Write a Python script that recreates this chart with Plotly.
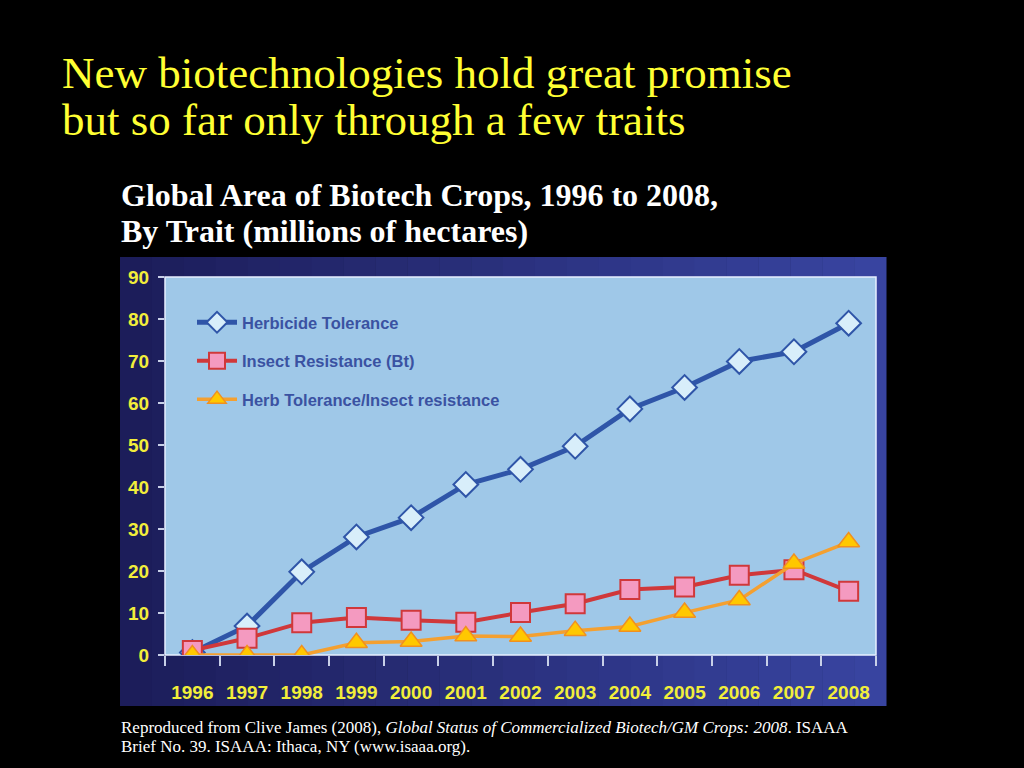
import plotly.graph_objects as go

years = ["1996", "1997", "1998", "1999", "2000", "2001", "2002",
         "2003", "2004", "2005", "2006", "2007", "2008"]
herbicide = [0.6, 6.9, 19.8, 28.1, 32.7, 40.6, 44.2, 49.7, 58.6, 63.7, 69.9, 72.2, 79.0]
insect = [1.1, 4.0, 7.7, 8.9, 8.3, 7.8, 10.1, 12.2, 15.6, 16.2, 19.0, 20.3, 15.2]
stacked = [0.0, 0.0, 0.0, 2.9, 3.2, 4.5, 4.4, 5.8, 6.8, 10.1, 13.1, 21.8, 26.9]
series_names = ["Herbicide Tolerance", "Insect Resistance (Bt)", "Herb Tolerance/Insect resistance"]
y_ticks = [0, 10, 20, 30, 40, 50, 60, 70, 80, 90]

W, H = 1024, 768
L, R, T, B = 165, 876, 277, 655


def px(x):
    return (x - L) / (R - L)


def py(y):
    return (B - y) / (B - T)


fig = go.Figure()
fig.add_trace(go.Scatter(
    x=years, y=herbicide, name=series_names[0], mode="lines+markers",
    line=dict(color="#2f55a8", width=5),
    marker=dict(symbol="diamond", size=19, color="#d8eefa",
                line=dict(color="#2f55a8", width=2)),
    legendgroup="a"))
fig.add_trace(go.Scatter(
    x=years, y=insect, name=series_names[1], mode="lines+markers",
    line=dict(color="#d0383a", width=4),
    marker=dict(symbol="square", size=19, color="#f49ac0",
                line=dict(color="#d0383a", width=2)),
    legendgroup="b"))
fig.add_trace(go.Scatter(
    x=years, y=stacked, name=series_names[2], mode="lines+markers",
    line=dict(color="#f4a030", width=3.5),
    marker=dict(symbol="triangle-up", size=19, color="#ffc800",
                line=dict(color="#f09020", width=1.5)),
    legendgroup="c"))

# navy frame with a left-to-right gradient
shapes = []
n_strips = 24
x_left, x_right = 120, 886
c0 = (0x1c, 0x1d, 0x5a)
c1 = (0x38, 0x44, 0xa0)
for i in range(n_strips):
    t = i / (n_strips - 1)
    col = "rgb({},{},{})".format(*[round(a + (b - a) * t) for a, b in zip(c0, c1)])
    xa = x_left + (x_right - x_left) * i / n_strips
    xb = x_left + (x_right - x_left) * (i + 1) / n_strips
    shapes.append(dict(type="rect", xref="paper", yref="paper", x0=px(xa), x1=px(xb + 0.5),
                       y0=py(706), y1=py(257), fillcolor=col, line=dict(width=0), layer="below"))
# inner plot area
shapes.append(dict(type="rect", xref="paper", yref="paper", x0=0, x1=1, y0=0, y1=1,
                   fillcolor="#9fc8e8", line=dict(color="#e8f0ff", width=1.5), layer="below"))

tick_font = dict(family="Liberation Sans, Arial, sans-serif", size=19, color="#f2ee3a", weight="bold")
serif = "Liberation Serif, Times New Roman, serif"

annotations = [
    dict(text="New biotechnologies hold great promise", x=px(60), y=py(73),
         font=dict(family=serif, size=45, color="#ffff33")),
    dict(text="but so far only through a few traits", x=px(60), y=py(120),
         font=dict(family=serif, size=45, color="#ffff33")),
    dict(text="<b>Global Area of Biotech Crops, 1996 to 2008,</b>", x=px(119), y=py(195),
         font=dict(family=serif, size=32, color="#ffffff")),
    dict(text="<b>By Trait (millions of hectares)</b>", x=px(119), y=py(231),
         font=dict(family=serif, size=32, color="#ffffff")),
    dict(text="Reproduced from Clive James (2008), <i>Global Status of Commercialized Biotech/GM Crops: 2008</i>. ISAAA",
         x=px(119), y=py(727),
         font=dict(family=serif, size=17, color="#ffffff")),
    dict(text="Brief No. 39. ISAAA: Ithaca, NY (www.isaaa.org).", x=px(119), y=py(746),
         font=dict(family=serif, size=17, color="#ffffff")),
]
for a in annotations:
    a.update(xref="paper", yref="paper", xanchor="left", yanchor="middle", showarrow=False)

fig.update_layout(
    width=W, height=H,
    margin=dict(l=L, r=W - R, t=T, b=H - B, pad=0),
    paper_bgcolor="#000000", plot_bgcolor="#9fc8e8",
    shapes=shapes, annotations=annotations,
    showlegend=True,
    legend=dict(x=px(192), y=py(305), xanchor="left", yanchor="top",
                bgcolor="rgba(0,0,0,0)", traceorder="grouped", tracegroupgap=14,
                font=dict(family="Liberation Sans, Arial, sans-serif", size=16.5,
                          color="#3a52a2", weight="bold"),
                itemwidth=40),
    xaxis=dict(type="category", tickson="boundaries", ticks="outside", ticklen=10,
               tickcolor="#c8d0e8", tickwidth=1.5, showgrid=False, zeroline=False,
               showline=False, tickfont=tick_font, ticklabelstandoff=24,
               range=[-0.5, 12.5]),
    yaxis=dict(range=[0, 90], tickvals=y_ticks, ticks="outside", ticklen=6,
               tickcolor="#c8d0e8", tickwidth=1.5, showgrid=False, zeroline=False,
               showline=False, tickfont=tick_font, ticklabelstandoff=5),
)

fig.write_html("out.html", config={"displayModeBar": False},
               post_script="document.body.style.margin='0';document.body.style.background='#000';")
